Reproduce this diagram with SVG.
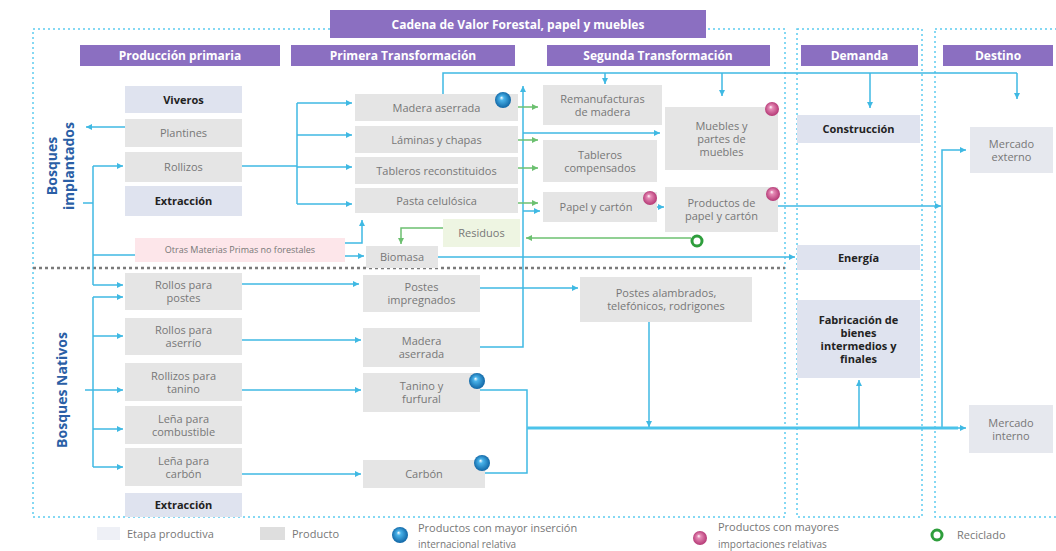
<svg xmlns="http://www.w3.org/2000/svg" width="1056" height="551" viewBox="0 0 1056 551">
<style>
.hdr{fill:#8b6fc1}
.hdrt{font-family:"Open Sans","Liberation Sans",sans-serif;font-weight:bold;font-size:12px;fill:#fff;text-anchor:middle}
.etapa{fill:#dfe3ef}
.prod{fill:#e5e5e5}
.tb{font-family:"Open Sans","Liberation Sans",sans-serif;font-weight:bold;font-size:11px;fill:#222;text-anchor:middle}
.tp{font-family:"Open Sans","Liberation Sans",sans-serif;font-size:11px;fill:#777;text-anchor:middle}
.side{font-family:"Open Sans","Liberation Sans",sans-serif;font-weight:bold;font-size:14px;fill:#2b5fa6;text-anchor:middle}
.frame{fill:none;stroke:#5ccbef;stroke-width:1.5;stroke-dasharray:2 3}
.sep{fill:none;stroke:#7a7a7a;stroke-width:2.5;stroke-dasharray:3 3}
.c{fill:none;stroke:#3fb9e3;stroke-width:1.5;marker-end:url(#ab)}
.cn{fill:none;stroke:#3fb9e3;stroke-width:1.5}
.thick{fill:none;stroke:#4cc3ea;stroke-width:3}
.g{fill:none;stroke:#6cc070;stroke-width:1.5;marker-end:url(#ag)}
.lg{font-family:"Open Sans","Liberation Sans",sans-serif;font-size:11px;fill:#777}
</style>
<defs>
<marker id="ab" markerUnits="userSpaceOnUse" markerWidth="7" markerHeight="7" refX="6" refY="3.5" orient="auto"><path d="M0,0.5 L6,3.5 L0,6.5 z" fill="#3fb9e3"/></marker>
<marker id="ag" markerUnits="userSpaceOnUse" markerWidth="7" markerHeight="7" refX="6" refY="3.5" orient="auto"><path d="M0,0.5 L6,3.5 L0,6.5 z" fill="#6cc070"/></marker>
<radialGradient id="bb" cx="50%" cy="50%" r="55%" fx="40%" fy="35%"><stop offset="0" stop-color="#ffffff"/><stop offset="0.25" stop-color="#49b3ea"/><stop offset="1" stop-color="#0b5e9e"/></radialGradient>
<radialGradient id="pb" cx="50%" cy="50%" r="55%" fx="40%" fy="35%"><stop offset="0" stop-color="#ffffff"/><stop offset="0.25" stop-color="#e58ab5"/><stop offset="1" stop-color="#b0306f"/></radialGradient>
</defs>
<rect width="1056" height="551" fill="#fff"/>

<g id="frames">
<rect class="frame" x="33" y="29" width="752" height="488"/>
<rect class="frame" x="797" y="29" width="125" height="488"/>
<rect class="frame" x="935" y="29" width="124" height="488"/>
<line class="sep" x1="33" y1="268" x2="785" y2="268"/>
</g>

<g id="headers">
<rect class="hdr" x="330" y="10" width="376" height="28"/>
<text class="hdrt" x="518" y="28.5">Cadena de Valor Forestal, papel y muebles</text>
<rect class="hdr" x="80" y="45" width="200" height="21"/>
<text class="hdrt" x="180" y="60">Producción primaria</text>
<rect class="hdr" x="291" y="45" width="224" height="21"/>
<text class="hdrt" x="403" y="60">Primera Transformación</text>
<rect class="hdr" x="547" y="45" width="223" height="21"/>
<text class="hdrt" x="658" y="60">Segunda Transformación</text>
<rect class="hdr" x="801" y="45" width="117" height="21"/>
<text class="hdrt" x="859.5" y="60">Demanda</text>
<rect class="hdr" x="943" y="45" width="110" height="21"/>
<text class="hdrt" x="998" y="60">Destino</text>
</g>

<g id="side-labels">
<text class="side" transform="translate(60,166) rotate(-90)"><tspan x="0" y="-3">Bosques</tspan><tspan x="0" y="14">implantados</tspan></text>
<text class="side" transform="translate(67,390) rotate(-90)">Bosques Nativos</text>
</g>

<g id="connectors">
<path class="c" d="M125,127 H86"/>
<path class="cn" d="M83,203 H93"/>
<path class="cn" d="M93,166 V285"/>
<path class="c" d="M93,166 H123"/>
<path class="cn" d="M93,255 H135"/>
<path class="c" d="M93,285 H123"/>
<path class="cn" d="M93,297 V467"/>
<path class="c" d="M93,297 H123"/>
<path class="c" d="M93,336 H123"/>
<path class="c" d="M85,390 H123"/>
<path class="c" d="M93,429 H123"/>
<path class="c" d="M93,467 H123"/>
<path class="cn" d="M242,166 H297"/>
<path class="cn" d="M297,103 V204"/>
<path class="c" d="M297,103 H352"/>
<path class="c" d="M297,135 H352"/>
<path class="c" d="M297,167 H352"/>
<path class="c" d="M297,204 H352"/>
<path class="c" d="M345,243 H362 V220"/>
<path class="c" d="M345,256 H364"/>
<path class="g" d="M443,228 H401 V244"/>
<path class="cn" d="M443,94 V73 H1017"/>
<path class="c" d="M1017,73 V99"/>
<path class="c" d="M605,73 V84"/>
<path class="c" d="M722,73 V96"/>
<path class="c" d="M870,73 V108"/>
<path class="c" d="M480,347 H523 V86"/>
<path class="c" d="M523,133 H660"/>
<path class="c" d="M523,211 H540"/>
<path class="c" d="M657,207 H664"/>
<path class="c" d="M438,257 H795"/>
<path class="c" d="M778,206 H941"/>
<path class="c" d="M942,428 V150 H966"/>
<path class="cn" d="M480,390 H527 V473 H485"/>
<path class="thick" d="M527,428 H958"/>
<path class="c" d="M958,428 H966"/>
<path class="c" d="M649,322 V427"/>
<path class="c" d="M859,428 V380"/>
<path class="c" d="M242,284 H359"/>
<path class="c" d="M242,340 H361"/>
<path class="c" d="M242,390 H361"/>
<path class="c" d="M242,474 H361"/>
<path class="c" d="M480,288 H578"/>
<path class="g" d="M518,107 H538"/>
<path class="g" d="M518,140 H538"/>
<path class="g" d="M518,168 H538"/>
<path class="g" d="M518,203 H538"/>
<path class="g" d="M691,238 H526"/>
</g>

<g id="viveros"><rect class="etapa" x="125" y="86" width="117" height="27"/><text class="tb" x="183.5" y="103.5">Viveros</text></g>
<g id="plantines"><rect class="prod" x="125" y="119" width="117" height="28"/><text class="tp" x="183.5" y="137">Plantines</text></g>
<g id="rollizos"><rect class="prod" x="125" y="152" width="117" height="30"/><text class="tp" x="183.5" y="171">Rollizos</text></g>
<g id="extraccion-1"><rect class="etapa" x="125" y="186" width="117" height="30"/><text class="tb" x="183.5" y="205">Extracción</text></g>
<g id="otras-materias"><rect x="135" y="238" width="210" height="24" fill="#fde6ea"/><text class="tp" x="240" y="253" style="font-size:9px">Otras Materias Primas no forestales</text></g>
<g id="rollos-postes"><rect class="prod" x="125" y="273" width="117" height="37"/><text class="tp" x="183.5"><tspan x="183.5" y="289">Rollos para</tspan><tspan x="183.5" y="302">postes</tspan></text></g>
<g id="rollos-aserrio"><rect class="prod" x="125" y="318" width="117" height="37"/><text class="tp"><tspan x="183.5" y="334">Rollos para</tspan><tspan x="183.5" y="347">aserrío</tspan></text></g>
<g id="rollizos-tanino"><rect class="prod" x="125" y="363" width="117" height="38"/><text class="tp"><tspan x="183.5" y="379.5">Rollizos para</tspan><tspan x="183.5" y="392.5">tanino</tspan></text></g>
<g id="lena-combustible"><rect class="prod" x="125" y="406" width="117" height="38"/><text class="tp"><tspan x="183.5" y="422.5">Leña para</tspan><tspan x="183.5" y="435.5">combustible</tspan></text></g>
<g id="lena-carbon"><rect class="prod" x="125" y="448" width="117" height="38"/><text class="tp"><tspan x="183.5" y="464.5">Leña para</tspan><tspan x="183.5" y="477.5">carbón</tspan></text></g>
<g id="extraccion-2"><rect class="etapa" x="125" y="493" width="117" height="24"/><text class="tb" x="183.5" y="509">Extracción</text></g>

<g id="madera-aserrada-1"><rect class="prod" x="355" y="94" width="163" height="27"/><text class="tp" x="436.5" y="111.5">Madera aserrada</text></g>
<g id="laminas"><rect class="prod" x="355" y="126" width="163" height="27"/><text class="tp" x="436.5" y="143.5">Láminas y chapas</text></g>
<g id="tableros-reconstituidos"><rect class="prod" x="355" y="157" width="163" height="27"/><text class="tp" x="436.5" y="174.5">Tableros reconstituidos</text></g>
<g id="pasta"><rect class="prod" x="355" y="188" width="163" height="25"/><text class="tp" x="436.5" y="204.5">Pasta  celulósica</text></g>
<g id="residuos"><rect x="443" y="219" width="77" height="28" fill="#eef5e2"/><text class="tp" x="481.5" y="237">Residuos</text></g>
<g id="biomasa"><rect class="prod" x="366" y="246" width="72" height="22"/><text class="tp" x="402" y="261">Biomasa</text></g>
<g id="postes-impregnados"><rect class="prod" x="363" y="275" width="117" height="37"/><text class="tp"><tspan x="421.5" y="291">Postes</tspan><tspan x="421.5" y="304">impregnados</tspan></text></g>
<g id="madera-aserrada-2"><rect class="prod" x="363" y="328" width="117" height="39"/><text class="tp"><tspan x="421.5" y="345">Madera</tspan><tspan x="421.5" y="358">aserrada</tspan></text></g>
<g id="tanino"><rect class="prod" x="363" y="373" width="117" height="39"/><text class="tp"><tspan x="421.5" y="390">Tanino y</tspan><tspan x="421.5" y="403">furfural</tspan></text></g>
<g id="carbon"><rect class="prod" x="363" y="460" width="122" height="28"/><text class="tp" x="424" y="478">Carbón</text></g>

<g id="remanufacturas"><rect class="prod" x="543" y="85" width="119" height="40"/><text class="tp"><tspan x="602.5" y="102.5">Remanufacturas</tspan><tspan x="602.5" y="115.5">de madera</tspan></text></g>
<g id="tableros-compensados"><rect class="prod" x="543" y="140" width="114" height="42"/><text class="tp"><tspan x="600" y="158.5">Tableros</tspan><tspan x="600" y="171.5">compensados</tspan></text></g>
<g id="papel-carton"><rect class="prod" x="543" y="192" width="114" height="30"/><text class="tp" x="596" y="211">Papel y cartón</text></g>
<g id="muebles"><rect class="prod" x="665" y="107" width="113" height="63"/><text class="tp"><tspan x="721.5" y="129.5">Muebles y</tspan><tspan x="721.5" y="142.5">partes de</tspan><tspan x="721.5" y="155.5">muebles</tspan></text></g>
<g id="productos-papel"><rect class="prod" x="665" y="187" width="113" height="45"/><text class="tp"><tspan x="721.5" y="207">Productos de</tspan><tspan x="721.5" y="220">papel y cartón</tspan></text></g>
<g id="postes-alambrados"><rect class="prod" x="580" y="277" width="172" height="45"/><text class="tp"><tspan x="666" y="297">Postes alambrados,</tspan><tspan x="666" y="310">telefónicos, rodrigones</tspan></text></g>

<g id="construccion"><rect class="etapa" x="797" y="115" width="123" height="28"/><text class="tb" x="858.5" y="133">Construcción</text></g>
<g id="energia"><rect class="etapa" x="797" y="245" width="123" height="25"/><text class="tb" x="858.5" y="261.5">Energía</text></g>
<g id="fabricacion"><rect class="etapa" x="797" y="300" width="123" height="78"/><text class="tb"><tspan x="858.5" y="323.5">Fabricación de</tspan><tspan x="858.5" y="336.5">bienes</tspan><tspan x="858.5" y="349.5">intermedios y</tspan><tspan x="858.5" y="362.5">finales</tspan></text></g>
<g id="mercado-externo"><rect x="970" y="127" width="83" height="46" fill="#e6e8ee"/><text class="tp"><tspan x="1011.5" y="147.5">Mercado</tspan><tspan x="1011.5" y="160.5">externo</tspan></text></g>
<g id="mercado-interno"><rect x="969" y="405" width="84" height="48" fill="#e6e8ee"/><text class="tp"><tspan x="1011" y="426.5">Mercado</tspan><tspan x="1011" y="439.5">interno</tspan></text></g>

<g id="badges">
<circle cx="503" cy="100" r="8" fill="url(#bb)"/>
<circle cx="772" cy="109" r="7" fill="url(#pb)"/>
<circle cx="650" cy="198" r="7" fill="url(#pb)"/>
<circle cx="773" cy="194" r="7" fill="url(#pb)"/>
<circle cx="697" cy="241" r="5" fill="#fff" stroke="#2e9e3c" stroke-width="3"/>
<circle cx="477" cy="381" r="8" fill="url(#bb)"/>
<circle cx="482" cy="463" r="8" fill="url(#bb)"/>
</g>

<g id="legend">
<rect x="97" y="527" width="23" height="13" fill="#eef0f6"/>
<text class="lg" x="127" y="538">Etapa productiva</text>
<rect x="260" y="527" width="25" height="13" fill="#dedede"/>
<text class="lg" x="292" y="538">Producto</text>
<circle cx="400" cy="535" r="8" fill="url(#bb)"/>
<text class="lg" x="418" y="532">Productos con mayor inserción</text>
<text class="lg" x="418" y="548" style="font-size:10px">internacional relativa</text>
<circle cx="700" cy="538" r="7" fill="url(#pb)"/>
<text class="lg" x="718" y="531">Productos con mayores</text>
<text class="lg" x="718" y="548" style="font-size:10px">importaciones relativas</text>
<circle cx="937" cy="535" r="5" fill="#fff" stroke="#2e9e3c" stroke-width="3"/>
<text class="lg" x="957" y="539">Reciclado</text>
</g>
</svg>
